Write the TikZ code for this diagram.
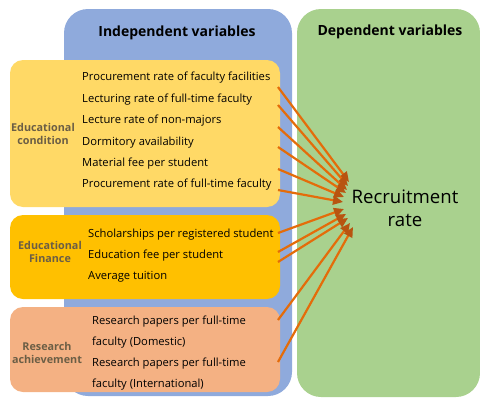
\documentclass[tikz,border=0pt]{standalone}
\usepackage{fontspec}
\setmainfont{Open Sans}
\usetikzlibrary{arrows.meta}

\definecolor{indepblue}{HTML}{8FAADC}
\definecolor{depgreen}{HTML}{A9D18E}
\definecolor{condyellow}{HTML}{FFD966}
\definecolor{finorange}{HTML}{FFC000}
\definecolor{ressalmon}{HTML}{F4B183}
\definecolor{grouptext}{HTML}{6B5E45}
\definecolor{linkorange}{HTML}{E46C0A}
\definecolor{linkdark}{HTML}{B85410}

\begin{document}
\begin{tikzpicture}[x=1pt, y=-1pt,
    panel/.style={rectangle, rounded corners=24pt, inner sep=0pt},
    group/.style={rectangle, rounded corners=13pt, inner sep=0pt, minimum width=270pt},
    item/.style={anchor=west, inner sep=0pt, font=\fontsize{11.2}{12}\selectfont},
    grouplabel/.style={align=center, text=grouptext, font=\bfseries\fontsize{10.8}{13.5}\selectfont},
    title/.style={font=\bfseries\fontsize{14}{16}\selectfont},
    link/.style={draw=linkorange, line width=2.2pt, -{Triangle[length=10pt, width=9pt, color=linkdark]}}]
  \useasboundingbox (0,0) rectangle (480,397);

  % the two columns
  \node[panel, fill=indepblue, minimum width=228pt, minimum height=387pt] (indep) at (178,202.5) {};
  \node[panel, fill=depgreen, minimum width=183pt, minimum height=388pt] (dep) at (388.5,203) {};
  \node[title] (indeptitle) at (177,33) {Independent variables};
  \node[title] (deptitle) at (390,32) {Dependent variables};

  % groups of independent variables
  \node[group, fill=condyellow, minimum height=147pt] (cond) at (145,133.5) {};
  \node[group, fill=finorange, minimum height=84pt] (fin) at (145,257) {};
  \node[group, fill=ressalmon, minimum height=85pt] (res) at (145,349.5) {};

  \node[grouplabel] (condlabel) at (43,134) {Educational\\condition};
  \node[grouplabel] (finlabel) at (50,252) {Educational\\Finance};
  \node[grouplabel] (reslabel) at (47,353) {Research\\achievement};

  \node[item] (c1) at (82,78) {Procurement rate of faculty facilities};
  \node[item] (c2) at (82,100) {Lecturing rate of full-time faculty};
  \node[item] (c3) at (82,121) {Lecture rate of non-majors};
  \node[item] (c4) at (82,143) {Dormitory availability};
  \node[item] (c5) at (82,164) {Material fee per student};
  \node[item] (c6) at (82,185) {Procurement rate of full-time faculty};

  \node[item] (f1) at (88,235) {Scholarships per registered student};
  \node[item] (f2) at (88,256) {Education fee per student};
  \node[item] (f3) at (88,277) {Average tuition};

  \node[item] (r1) at (92,322) {Research papers per full-time};
  \node[item] (r2) at (92,343) {faculty (Domestic)};
  \node[item] (r3) at (92,364) {Research papers per full-time};
  \node[item] (r4) at (92,385) {faculty (International)};

  % dependent variable
  \node[align=center, font=\fontsize{18.6}{23}\selectfont] (rec) at (405,208) {Recruitment\\rate};

  % arrows
  \foreach \sy/\ex/\ey [count=\i] in {87/349/182, 105/348/186, 127/347/190, 147/346/193,
      169/344/197, 190/343/202, 233/344/209, 252/346/214, 262/348/218, 320/350/223, 362/353/227} {
    \coordinate (s\i) at (278,\sy);
    \coordinate (e\i) at (\ex,\ey);
    \draw[link] (s\i) -- (e\i);
  }
\end{tikzpicture}
\end{document}
